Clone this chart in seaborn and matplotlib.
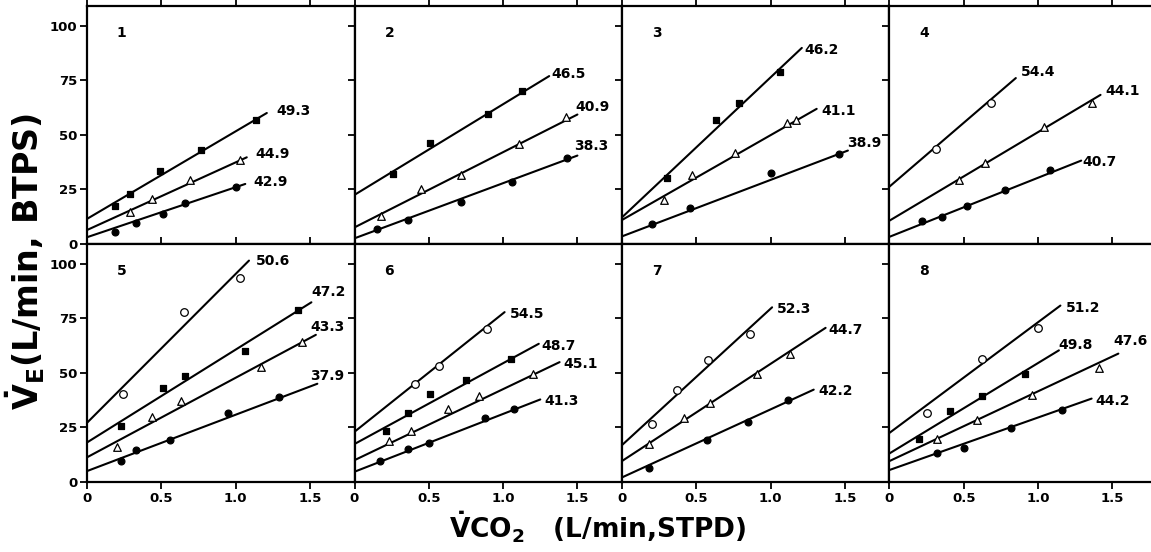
import numpy as np
import pandas as pd
import seaborn as sns
import matplotlib.pyplot as plt

# ---- data (VCO2 in L/min STPD, VE in L/min BTPS) ----
# kinds: "sq" filled square, "tri" open triangle, "dot" filled circle, "ring" open circle
p1_kind = ["sq", "tri", "dot"]
p1_x = [[0.19, 0.29, 0.49, 0.77, 1.14], [0.29, 0.44, 0.69, 1.03], [0.19, 0.33, 0.51, 0.66, 1.00]]
p1_y = [[17.4, 22.9, 33.6, 43.1, 56.6], [14.5, 20.6, 29.4, 38.5], [5.4, 9.5, 13.8, 18.7, 26.0]]
p1_fit_y0 = [11.5, 6.4, 3.1]
p1_fit_x1 = [1.21, 1.075, 1.065]
p1_fit_y1 = [60.0, 39.7, 27.5]
p1_slope = ["49.3", "44.9", "42.9"]

p2_kind = ["sq", "tri", "dot"]
p2_x = [[0.26, 0.51, 0.90, 1.13], [0.18, 0.45, 0.72, 1.11, 1.42], [0.15, 0.36, 0.72, 1.06, 1.43]]
p2_y = [[32.1, 46.3, 59.6, 70.3], [12.7, 25.2, 31.7, 45.6, 58.1], [6.9, 11.2, 19.4, 28.6, 39.4]]
p2_fit_y0 = [22.5, 7.6, 2.6]
p2_fit_x1 = [1.31, 1.50, 1.50]
p2_fit_y1 = [76.9, 59.3, 40.5]
p2_slope = ["46.5", "40.9", "38.3"]

p3_kind = ["sq", "tri", "dot"]
p3_x = [[0.30, 0.63, 0.79, 1.06], [0.28, 0.47, 0.76, 1.11, 1.17], [0.20, 0.46, 1.00, 1.46]]
p3_y = [[30.1, 56.6, 64.7, 79.0], [20.2, 31.7, 41.7, 55.5, 57.0], [9.2, 16.4, 32.4, 41.0]]
p3_fit_y0 = [12.2, 11.0, 3.5]
p3_fit_x1 = [1.21, 1.31, 1.52]
p3_fit_y1 = [89.8, 61.9, 42.8]
p3_slope = ["46.2", "41.1", "38.9"]

p4_kind = ["ring", "tri", "dot"]
p4_x = [[0.31, 0.68], [0.47, 0.64, 1.04, 1.36], [0.22, 0.35, 0.52, 0.78, 1.08]]
p4_y = [[43.3, 64.7], [29.5, 37.0, 53.8, 64.5], [10.7, 12.5, 17.3, 24.8, 34.1]]
p4_fit_y0 = [26.3, 10.7, 3.3]
p4_fit_x1 = [0.85, 1.42, 1.29]
p4_fit_y1 = [76.0, 68.3, 38.2]
p4_slope = ["54.4", "44.1", "40.7"]

p5_kind = ["ring", "sq", "tri", "dot"]
p5_x = [[0.24, 0.65, 1.03], [0.23, 0.51, 0.66, 1.06, 1.42],
        [0.20, 0.44, 0.63, 1.17, 1.45], [0.23, 0.33, 0.56, 0.95, 1.29]]
p5_y = [[40.5, 77.8, 93.5], [25.6, 43.1, 48.5, 60.0, 79.0],
        [16.1, 29.8, 37.0, 52.7, 64.1], [9.6, 14.6, 19.2, 31.4, 38.7]]
p5_fit_y0 = [27.1, 18.1, 11.3, 5.0]
p5_fit_x1 = [1.09, 1.51, 1.54, 1.55]
p5_fit_y1 = [101.4, 82.3, 67.4, 45.0]
p5_slope = ["50.6", "47.2", "43.3", "37.9"]

p6_kind = ["ring", "sq", "tri", "dot"]
p6_x = [[0.41, 0.57, 0.89], [0.21, 0.36, 0.51, 0.75, 1.05],
        [0.23, 0.38, 0.63, 0.84, 1.20], [0.17, 0.36, 0.50, 0.88, 1.07]]
p6_y = [[45.1, 53.3, 69.9], [23.3, 31.8, 40.2, 46.6, 56.2],
        [18.7, 23.3, 33.6, 39.4, 49.6], [9.6, 15.1, 17.9, 29.4, 33.3]]
p6_fit_y0 = [23.0, 17.4, 10.0, 4.7]
p6_fit_x1 = [1.01, 1.24, 1.38, 1.25]
p6_fit_y1 = [77.8, 63.3, 54.9, 37.8]
p6_slope = ["54.5", "48.7", "45.1", "41.3"]

p7_kind = ["ring", "tri", "dot"]
p7_x = [[0.20, 0.37, 0.58, 0.86], [0.18, 0.42, 0.59, 0.91, 1.13], [0.18, 0.57, 0.85, 1.12]]
p7_y = [[26.5, 42.3, 55.7, 67.9], [17.4, 29.1, 36.4, 49.3, 58.8], [6.5, 19.2, 27.5, 37.4]]
p7_fit_y0 = [16.9, 9.6, 2.1]
p7_fit_x1 = [1.01, 1.37, 1.29]
p7_fit_y1 = [80.0, 70.6, 42.3]
p7_slope = ["52.3", "44.7", "42.2"]

p8_kind = ["ring", "sq", "tri", "dot"]
p8_x = [[0.25, 0.62, 1.00], [0.20, 0.41, 0.62, 0.91],
        [0.32, 0.59, 0.96, 1.41], [0.32, 0.50, 0.82, 1.16]]
p8_y = [[31.8, 56.5, 70.5], [19.6, 32.6, 39.4, 49.6],
        [19.9, 28.3, 40.0, 52.4], [13.1, 15.7, 24.8, 33.2]]
p8_fit_y0 = [22.5, 13.1, 9.6, 5.5]
p8_fit_x1 = [1.15, 1.14, 1.54, 1.36]
p8_fit_y1 = [80.8, 60.3, 58.8, 38.2]
p8_slope = ["51.2", "49.8", "47.6", "44.2"]

x_ticks = [0, 0.5, 1.0, 1.5]
x_ticklabels = ["0", "0.5", "1.0", "1.5"]
y_ticks = [0, 25, 50, 75, 100]

# ---- styles ----
marker_style = {
    "sq": dict(marker="s", facecolor="black", s=22),
    "tri": dict(marker="^", facecolor="white", s=30),
    "dot": dict(marker="o", facecolor="black", s=24),
    "ring": dict(marker="o", facecolor="white", s=30),
}
# where each slope number sits relative to its line end (pixels right, pixels up)
label_nudge = {
    1: [(10, 2), (9, 3), (8, 2)],
    2: [(2, 2), (-2, 8), (-3, 10)],
    3: [(3, -2), (5, -2), (-1, 8)],
    4: [(5, 6), (5, 4), (1, -1)],
    5: [(7, 0), (0, 10), (-5, 8), (-7, 8)],
    6: [(5, -2), (3, -2), (4, -2), (4, -2)],
    7: [(5, -2), (3, -2), (5, -1)],
    8: [(5, -2), (-1, 5), (-5, 13), (4, -2)],
}

panels = [
    (p1_kind, p1_x, p1_y, p1_fit_y0, p1_fit_x1, p1_fit_y1, p1_slope),
    (p2_kind, p2_x, p2_y, p2_fit_y0, p2_fit_x1, p2_fit_y1, p2_slope),
    (p3_kind, p3_x, p3_y, p3_fit_y0, p3_fit_x1, p3_fit_y1, p3_slope),
    (p4_kind, p4_x, p4_y, p4_fit_y0, p4_fit_x1, p4_fit_y1, p4_slope),
    (p5_kind, p5_x, p5_y, p5_fit_y0, p5_fit_x1, p5_fit_y1, p5_slope),
    (p6_kind, p6_x, p6_y, p6_fit_y0, p6_fit_x1, p6_fit_y1, p6_slope),
    (p7_kind, p7_x, p7_y, p7_fit_y0, p7_fit_x1, p7_fit_y1, p7_slope),
    (p8_kind, p8_x, p8_y, p8_fit_y0, p8_fit_x1, p8_fit_y1, p8_slope),
]

sns.set_theme(style="ticks")
plt.rcParams["font.family"] = ["DejaVu Sans"]
plt.rcParams["font.weight"] = "bold"
plt.rcParams["mathtext.fontset"] = "dejavusans"
plt.rcParams["axes.linewidth"] = 1.6
for key in ["text.color", "axes.labelcolor", "xtick.color", "ytick.color", "axes.edgecolor"]:
    plt.rcParams[key] = "black"

W, H = 1151, 552
fig = plt.figure(figsize=(W / 100, H / 100), dpi=100)
# panel grid: last column runs slightly past the right edge, as in the scan
gs = fig.add_gridspec(2, 4, left=87 / W, right=1157 / W, top=1 - 6 / H, bottom=1 - 482 / H,
                      wspace=0, hspace=0)

for i, (kind, xs, ys, y0, x1, y1, slope) in enumerate(panels):
    num = i + 1
    r, c = divmod(i, 4)
    ax = fig.add_subplot(gs[r, c])

    for j in range(len(kind)):
        # fitted line from the intercept out to the last point
        fit = pd.DataFrame({"x": [0, x1[j]], "y": [y0[j], y1[j]]})
        sns.lineplot(data=fit, x="x", y="y", color="black", lw=1.5, ax=ax)
        st = marker_style[kind[j]]
        pts = pd.DataFrame({"x": xs[j], "y": ys[j]})
        sns.scatterplot(data=pts, x="x", y="y", marker=st["marker"], s=st["s"],
                        color="black", facecolor=st["facecolor"], edgecolor="black",
                        linewidth=0.9, zorder=3, ax=ax)
        dx, dy = label_nudge[num][j]
        ax.annotate(slope[j], xy=(x1[j], y1[j]), xytext=(dx * 0.72, dy * 0.72),
                    textcoords="offset points", ha="left", va="center",
                    fontsize=10, fontweight="bold")

    ax.text(0.13, 0.885, str(num), transform=ax.transAxes, fontsize=10,
            fontweight="bold", ha="center", va="center")

    ax.set_xlim(0, 1.8)
    ax.set_ylim(0, 109)
    ax.set_xticks(x_ticks)
    ax.set_yticks(y_ticks)
    ax.set_xlabel("")
    ax.set_ylabel("")
    ax.tick_params(direction="out", length=5, width=1.3, top=True, right=True,
                   labelsize=9.5, pad=2)
    if r == 0:
        ax.set_xticklabels([])
    else:
        ax.set_xticklabels(x_ticklabels, fontweight="bold")
    if c == 0:
        ax.set_yticklabels([str(v) for v in y_ticks], fontweight="bold")
    else:
        ax.set_yticklabels([])

fig.text(25 / W, 1 - 261 / H, r"$\dot{\mathbf{V}}_{\mathbf{E}}$(L/min, BTPS)", rotation=90,
         ha="center", va="center", fontsize=24, fontweight="bold")
fig.text(598 / W, 1 - 527 / H, r"$\dot{\mathbf{V}}\mathbf{CO}_{\mathbf{2}}$   (L/min,STPD)",
         ha="center", va="center", fontsize=19, fontweight="bold")

fig.savefig("out.png", dpi=100)
